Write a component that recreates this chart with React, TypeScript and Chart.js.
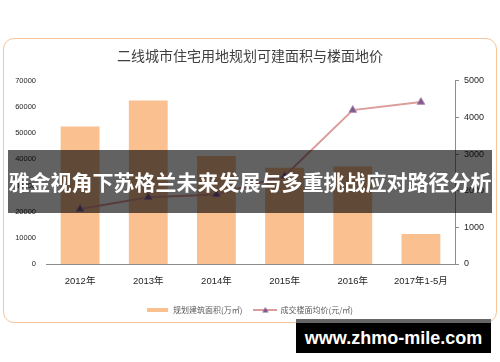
import React, { useEffect, useRef } from "react";
import { Chart, registerables } from "chart.js";

Chart.register(...registerables);

const categories = ["2012年", "2013年", "2014年", "2015年", "2016年", "2017年1-5月"];
const plannedArea = [52500, 62500, 41300, 36800, 37300, 11500];
const avgPrice = [1500, 1820, 1900, 2400, 4200, 4420];
const leftTicks = [0, 10000, 20000, 30000, 40000, 50000, 60000, 70000];
const rightTicks = [0, 1000, 2000, 3000, 4000, 5000];

const titleText = "二线城市住宅用地规划可建面积与楼面地价";
const areaLabel = "规划建筑面积(万㎡)";
const priceLabel = "成交楼面均价(元/㎡)";
const bannerText = "雅金视角下苏格兰未来发展与多重挑战应对路径分析";
const watermarkText = "www.zhmo-mile.com";

const BAR_COLOR = "#FAC090";
const LINE_COLOR = "#DC9C9A";
const MARKER_FILL = "#7D5A8C";
const AXIS_COLOR = "#8C8C8C";
const FONT = "'Liberation Sans', 'Noto Sans CJK SC', sans-serif";

function makeSwatch(kind: "bar" | "line"): HTMLCanvasElement {
  const c = document.createElement("canvas");
  c.width = 24;
  c.height = 8;
  const ctx = c.getContext("2d")!;
  if (kind === "bar") {
    ctx.fillStyle = BAR_COLOR;
    ctx.fillRect(1, 2, 21, 4);
  } else {
    ctx.strokeStyle = LINE_COLOR;
    ctx.lineWidth = 2;
    ctx.beginPath();
    ctx.moveTo(0, 4);
    ctx.lineTo(24, 4);
    ctx.stroke();
    ctx.fillStyle = MARKER_FILL;
    ctx.beginPath();
    ctx.moveTo(12, 1);
    ctx.lineTo(15, 6.5);
    ctx.lineTo(9, 6.5);
    ctx.closePath();
    ctx.fill();
  }
  return c;
}

export default function App() {
  const ref = useRef<HTMLCanvasElement | null>(null);

  useEffect(() => {
    if (!ref.current) return;
    const barSwatch = makeSwatch("bar");
    const lineSwatch = makeSwatch("line");
    const chart = new Chart(ref.current, {
      type: "bar",
      data: {
        labels: categories,
        datasets: [
          {
            type: "bar",
            label: areaLabel,
            data: plannedArea,
            backgroundColor: BAR_COLOR,
            borderWidth: 0,
            yAxisID: "y",
            barPercentage: 0.57,
            categoryPercentage: 1,
            order: 2,
          },
          {
            type: "line",
            label: priceLabel,
            data: avgPrice,
            borderColor: LINE_COLOR,
            borderWidth: 2,
            backgroundColor: MARKER_FILL,
            pointStyle: "triangle",
            pointRadius: 4.5,
            pointBorderColor: "#B48AAE",
            pointBorderWidth: 1,
            yAxisID: "y1",
            tension: 0,
            order: 1,
          } as any,
        ],
      },
      options: {
        responsive: false,
        animation: false,
        layout: { padding: { left: 0, right: 0, top: 0, bottom: 38 } },
        plugins: {
          title: {
            display: true,
            text: titleText,
            color: "#404040",
            font: { family: "'Noto Sans CJK SC', sans-serif", size: 14, weight: "normal" },
            padding: { top: 47, bottom: 17 },
          },
          legend: {
            display: true,
            position: "bottom",
            labels: {
              usePointStyle: true,
              pointStyleWidth: 22,
              boxHeight: 8,
              padding: 12,
              color: "#595959",
              font: { family: "'Noto Sans CJK SC', sans-serif", size: 8 },
              generateLabels: () => [
                { text: areaLabel, pointStyle: barSwatch, fillStyle: BAR_COLOR, strokeStyle: BAR_COLOR, lineWidth: 0, hidden: false, datasetIndex: 0, fontColor: "#595959" } as any,
                { text: priceLabel, pointStyle: lineSwatch, fillStyle: LINE_COLOR, strokeStyle: LINE_COLOR, lineWidth: 0, hidden: false, datasetIndex: 1, fontColor: "#595959" } as any,
              ],
            },
          },
          tooltip: { enabled: false },
        },
        scales: {
          x: {
            grid: { display: false, drawTicks: false },
            border: { display: true, color: AXIS_COLOR },
            ticks: { color: "#262626", padding: 12, font: { family: FONT, size: 9.5 }, maxRotation: 0, autoSkip: false },
            afterFit: (s: any) => { s.height = 30; },
          },
          y: {
            position: "left",
            min: 0,
            max: 70000,
            afterBuildTicks: (s: any) => { s.ticks = leftTicks.map((v) => ({ value: v })); },
            grid: { display: false, drawTicks: false },
            border: { display: false },
            ticks: { color: "#262626", padding: 10, font: { family: FONT, size: 7.5 }, callback: (v: any) => String(v) },
            afterFit: (s: any) => { s.width = 46; },
          },
          y1: {
            position: "right",
            min: 0,
            max: 5000,
            afterBuildTicks: (s: any) => { s.ticks = rightTicks.map((v) => ({ value: v })); },
            grid: { display: true, drawOnChartArea: false, drawTicks: true, tickLength: 4, color: AXIS_COLOR },
            border: { display: true, color: AXIS_COLOR },
            ticks: { color: "#262626", padding: 5, font: { family: FONT, size: 9 }, callback: (v: any) => String(v) },
            afterFit: (s: any) => { s.width = 45; },
          },
        },
      } as any,
    });
    return () => chart.destroy();
  }, []);

  return (
    <div style={{ position: "fixed", left: 0, top: 0, width: 500, height: 362, background: "#fff", overflow: "hidden" }}>
      <div
        style={{
          position: "absolute",
          left: 3,
          top: 38,
          width: 492,
          height: 283,
          border: "1px solid #F6C59A",
          borderRadius: 11,
          pointerEvents: "none",
        }}
      />
      <canvas ref={ref} width={500} height={362} style={{ position: "absolute", left: 0, top: 0, width: 500, height: 362 }} />
      <div
        style={{
          position: "absolute",
          left: 8,
          top: 150,
          width: 484,
          height: 63,
          background: "rgba(0,0,0,0.615)",
          color: "#fff",
          fontFamily: "'Noto Sans CJK SC', sans-serif",
          fontWeight: 700,
          fontSize: 21,
          lineHeight: "63px",
          textAlign: "center",
          whiteSpace: "nowrap",
          overflow: "visible",
        }}
      >
        {bannerText}
      </div>
      <div
        style={{
          position: "absolute",
          left: 296,
          top: 319,
          width: 195,
          height: 30,
          borderTop: "4px solid #666",
          background: "#000",
          color: "#fff",
          fontFamily: "'Liberation Sans', Arial, sans-serif",
          fontWeight: 700,
          fontSize: 18,
          lineHeight: "30px",
          textAlign: "center",
          whiteSpace: "nowrap",
        }}
      >
        {watermarkText}
      </div>
    </div>
  );
}
